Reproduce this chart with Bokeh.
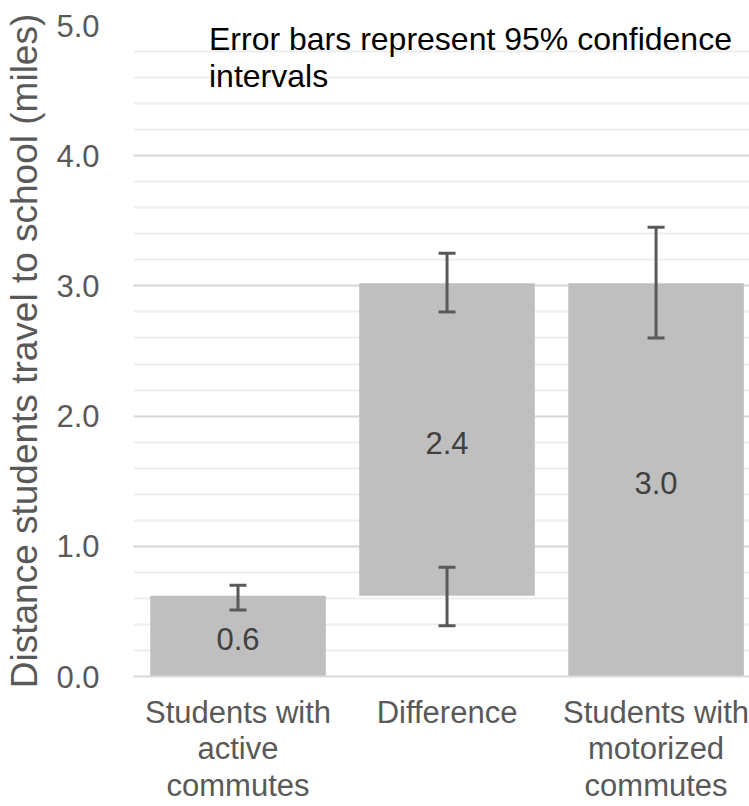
from bokeh.plotting import figure
from bokeh.models import (ColumnDataSource, Whisker, TeeHead, SingleIntervalTicker,
                          PrintfTickFormatter, Range1d, FixedTicker)
from bokeh.core.properties import value
from bokeh.embed import file_html
from bokeh.resources import INLINE

# ---- data ----
categories = ["Students with\nactive\ncommutes", "Difference", "Students with\nmotorized\ncommutes"]
bar_bottom = [0.0, 0.62, 0.0]
bar_top = [0.62, 3.02, 3.02]
value_labels = ["0.6", "2.4", "3.0"]

err_index = [0, 1, 1, 2]          # category index of each error bar
err_lower = [0.51, 2.80, 0.39, 2.60]
err_upper = [0.70, 3.25, 0.84, 3.45]

note = "Error bars represent 95% confidence\nintervals"
y_label = "Distance students travel to school (miles)"

FONT = "Liberation Sans"
GREY_TXT = "#595959"

xpos = list(range(len(categories)))

p = figure(x_range=Range1d(-0.5, 2.447), y_range=Range1d(0, 5),
           width=749, height=806, output_backend="svg", toolbar_location=None,
           min_border_left=133, min_border_right=0, min_border_top=25, min_border_bottom=0)
p.outline_line_color = None
p.background_fill_color = "white"

bars = ColumnDataSource(dict(x=xpos, bottom=bar_bottom, top=bar_top,
                             mid=[(b + t) / 2 for b, t in zip(bar_bottom, bar_top)],
                             lab=value_labels))
p.vbar(x="x", bottom="bottom", top="top", width=0.84, source=bars,
       fill_color="#bfbfbf", line_color=None)

errs = ColumnDataSource(dict(base=err_index, lower=err_lower, upper=err_upper))
w = Whisker(source=errs, base="base", lower="lower", upper="upper",
            line_color=GREY_TXT, line_width=3, level="annotation",
            upper_head=TeeHead(size=17, line_color=GREY_TXT, line_width=3),
            lower_head=TeeHead(size=17, line_color=GREY_TXT, line_width=3))
p.add_layout(w)

p.text(x="x", y="mid", text="lab", source=bars, text_font=value(FONT),
       text_font_size="31px", text_color="#404040", text_align="center",
       text_baseline="middle", y_offset=3)

p.text(x=[xpos[0]], y=[5.0], text=[note], text_font=value(FONT),
       text_font_size="32px", text_color="#000000", text_align="left",
       text_baseline="top", x_offset=-29, y_offset=-5, text_line_height=1.05)

ticker = SingleIntervalTicker(interval=1, num_minor_ticks=5)
p.yaxis.ticker = ticker
p.ygrid.ticker = ticker
p.yaxis.formatter = PrintfTickFormatter(format="%.1f")
p.yaxis.axis_line_color = None
p.yaxis.major_tick_line_color = None
p.yaxis.minor_tick_line_color = None
p.yaxis.major_label_text_font = FONT
p.yaxis.major_label_text_font_size = "31px"
p.yaxis.major_label_text_color = GREY_TXT
p.yaxis.major_label_standoff = 28
p.yaxis.axis_label = y_label
p.yaxis.axis_label_text_font = FONT
p.yaxis.axis_label_text_font_size = "37px"
p.yaxis.axis_label_text_font_style = "normal"
p.yaxis.axis_label_text_color = GREY_TXT
p.yaxis.axis_label_standoff = 8

p.xaxis.ticker = FixedTicker(ticks=xpos)
p.xaxis.major_label_overrides = {i: c for i, c in zip(xpos, categories)}
p.xaxis.axis_line_color = "#d9d9d9"
p.xaxis.axis_line_width = 2
p.xaxis.major_tick_line_color = None
p.xaxis.minor_tick_line_color = None
p.xaxis.major_label_text_font = FONT
p.xaxis.major_label_text_font_size = "31px"
p.xaxis.major_label_text_line_height = 1.05
p.xaxis.major_label_text_color = GREY_TXT
p.xaxis.major_label_standoff = 12

p.xgrid.grid_line_color = None
p.ygrid.grid_line_color = "#d9d9d9"
p.ygrid.grid_line_width = 2
p.ygrid.minor_grid_line_color = "#eeeeee"
p.ygrid.minor_grid_line_width = 2

open("out.html", "w").write(file_html(p, INLINE))
